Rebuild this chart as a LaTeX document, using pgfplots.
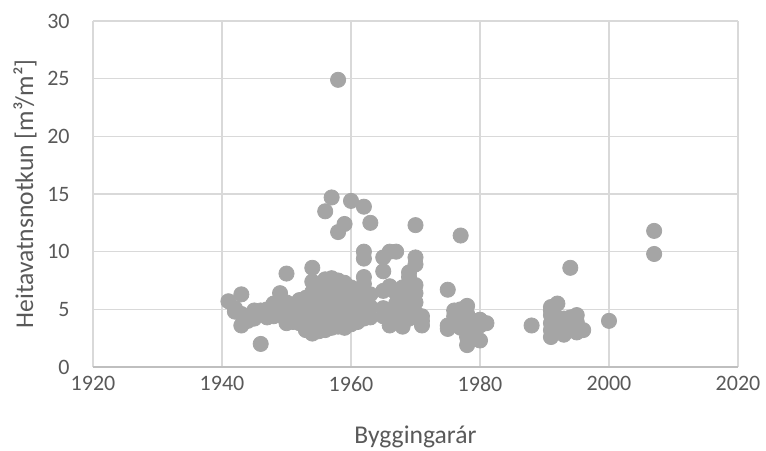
\documentclass[border=0pt]{standalone}
\usepackage{pgfplots}
\pgfplotsset{compat=1.18}
\usepackage{fontspec}
\setmainfont{Carlito}
\definecolor{markgray}{HTML}{A5A5A5}
\definecolor{gridgray}{HTML}{D9D9D9}
\definecolor{axisgray}{HTML}{BFBFBF}
\definecolor{textgray}{HTML}{595959}

\begin{document}
\begin{tikzpicture}
\useasboundingbox (-46.5pt,-41.5pt) rectangle (336.5pt,183.5pt);
\begin{axis}[
scale only axis,
width=322.5pt,
height=173pt,
xmin=1920, xmax=2020,
ymin=0, ymax=30,
xtick={1920,1940,...,2020},
ytick={0,5,...,30},
grid=major,
major grid style={color=gridgray, line width=0.6pt},
axis line style={draw=none},
tick style={draw=none},
clip=false,
/pgf/number format/assume math mode=true,
/pgf/number format/1000 sep={},
ticklabel style={font=\fontsize{11}{13}\selectfont, color=textgray},
xticklabel style={anchor=north, inner sep=0pt, yshift=-4.5pt},
yticklabel style={anchor=east, inner sep=0pt, xshift=-11.5pt},
xlabel={Byggingarár},
ylabel={Heitavatnsnotkun [m³/m²]},
every axis x label/.style={at={(axis description cs:0.5,-0.2023)}, anchor=center,
  font=\fontsize{12.8}{15}\selectfont, color=textgray},
every axis y label/.style={at={(axis description cs:-0.1054,0.5)}, rotate=90, anchor=center,
  font=\fontsize{12.8}{15}\selectfont, color=textgray},
]
\addplot[color=markgray, only marks, mark=*, mark size=3.8pt, mark options={draw=markgray, fill=markgray}]
coordinates {
(1941,5.7) (1942,5.1) (1942,4.8)
(1943,6.3) (1943,3.6) (1943,4.6)
(1944,4.4) (1944,4.0)
(1945,4.9) (1945,4.2) (1945,4.5)
(1946,2.0) (1946,4.6) (1946,4.9)
(1947,4.3) (1947,5.0) (1947,4.6)
(1948,5.5) (1948,5.2) (1948,4.4)
(1949,6.4) (1949,5.8) (1949,5.0) (1949,4.5)
(1950,8.1) (1950,5.6) (1950,4.1) (1950,3.8) (1950,4.8)
(1951,5.4) (1951,4.5) (1951,3.9)
(1952,5.8) (1952,5.0) (1952,4.3) (1952,3.8)
(1953,5.5) (1953,4.7) (1953,4.0) (1953,3.2) (1953,6.0)
(1954,8.6) (1954,7.4) (1954,6.5) (1954,5.8) (1954,5.0) (1954,4.4) (1954,3.8) (1954,2.9) (1954,3.3)
(1955,7.2) (1955,6.6) (1955,5.9) (1955,5.2) (1955,4.6) (1955,4.0) (1955,3.5) (1955,3.1)
(1956,13.5) (1956,7.6) (1956,7.0) (1956,6.2) (1956,5.5) (1956,4.8) (1956,4.2) (1956,3.6) (1956,3.2)
(1957,14.7) (1957,7.7) (1957,7.0) (1957,6.4) (1957,5.8) (1957,5.1) (1957,4.5) (1957,3.9) (1957,3.4)
(1958,24.9) (1958,11.7) (1958,7.5) (1958,6.8) (1958,6.0) (1958,5.3) (1958,4.6) (1958,4.0) (1958,3.5)
(1959,12.4) (1959,7.3) (1959,6.6) (1959,5.9) (1959,5.2) (1959,4.5) (1959,3.9) (1959,3.4)
(1960,14.4) (1960,6.9) (1960,6.2) (1960,5.5) (1960,4.8) (1960,4.2) (1960,3.7)
(1961,6.5) (1961,5.8) (1961,5.1) (1961,4.4) (1961,3.9)
(1962,13.9) (1962,10.0) (1962,9.4) (1962,7.8) (1962,7.2) (1962,6.5) (1962,5.6) (1962,4.9) (1962,4.2)
(1963,12.5) (1963,6.3) (1963,5.2) (1963,4.3)
(1965,9.5) (1965,8.3) (1965,6.6) (1965,5.1) (1965,4.4)
(1966,10.0) (1966,7.0) (1966,4.2) (1966,3.6)
(1967,10.0) (1967,6.4) (1967,5.5) (1967,4.8) (1967,3.9)
(1968,6.9) (1968,5.8) (1968,4.5) (1968,3.5)
(1969,8.2) (1969,7.8) (1969,6.0) (1969,4.9) (1969,4.2)
(1970,12.3) (1970,9.5) (1970,8.9) (1970,7.1) (1970,6.4) (1970,5.6) (1970,4.7)
(1971,4.4) (1971,3.6) (1971,4.0)
(1975,6.7) (1975,3.6) (1975,3.3)
(1976,4.4) (1976,3.8) (1976,4.9)
(1977,11.4) (1977,5.0) (1977,4.2) (1977,3.4)
(1978,5.3) (1978,4.6) (1978,3.9) (1978,2.6) (1978,1.9)
(1979,4.0) (1979,3.3) (1979,2.8)
(1980,4.1) (1980,3.6) (1980,2.3)
(1981,3.8)
(1988,3.6)
(1991,5.2) (1991,4.5) (1991,3.8) (1991,3.2) (1991,2.6) (1991,4.9)
(1992,5.5) (1992,4.3) (1992,3.4)
(1993,4.2) (1993,3.6) (1993,2.8)
(1994,8.6) (1994,4.3) (1994,3.5)
(1995,4.5) (1995,3.9) (1995,3.0)
(1996,3.2)
(2000,4.0)
(2007,11.8) (2007,9.8)
};
\draw[color=axisgray, line width=0.6pt] (axis cs:1920,0) -- (axis cs:2020,0);
\end{axis}
\end{tikzpicture}
\end{document}
